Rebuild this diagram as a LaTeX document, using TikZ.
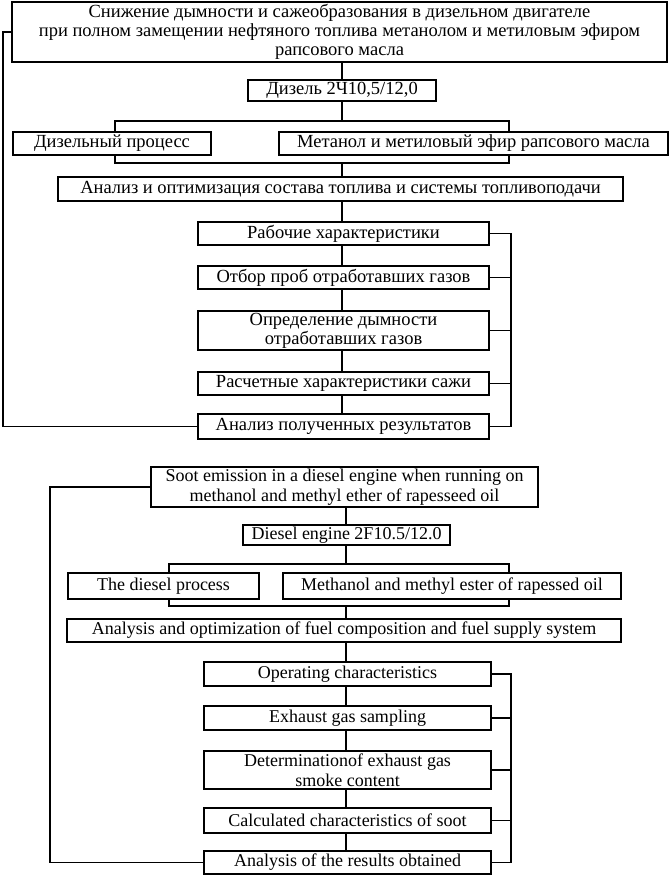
\documentclass[tikz,border=0pt]{standalone}
\usepackage{fontspec}
\setmainfont{Liberation Serif}
\begin{document}
\begin{tikzpicture}[x=1pt,y=-1pt,
  box/.style={draw, line width=1.6pt, fill=white, inner sep=0pt, align=center,
    font=\fontsize{18.5}{19.3}\selectfont},
  ebox/.style={box, font=\fontsize{18}{20}\selectfont},
  tbox/.style={box, line width=2.4pt},
  conn/.style={line width=1.6pt}]
\useasboundingbox (0,0) rectangle (671,876);
% ---------- top (Russian) ----------
\node[tbox, minimum width=655, minimum height=60] (T1) at (339.5,32)
  {Снижение дымности и сажеобразования в дизельном двигателе\\при полном замещении нефтяного топлива метанолом и метиловым эфиром\\рапсового масла};
\node[box, minimum width=188, minimum height=21] (D1) at (342,90.5) {Дизель 2Ч10,5/12,0};
\node[box, minimum width=198, minimum height=23] (L1) at (112,143.5) {Дизельный процесс};
\node[box, minimum width=389, minimum height=23] (R1) at (473.5,143.5) {Метанол и метиловый эфир рапсового масла};
\node[box, minimum width=565, minimum height=24] (A1) at (340.5,189) {Анализ и оптимизация состава топлива и системы топливоподачи};
\node[box, minimum width=291, minimum height=23] (B1) at (343.5,233.5) {Рабочие характеристики};
\node[box, minimum width=291, minimum height=23] (B2) at (343.5,277.5) {Отбор проб отработавших газов};
\node[box, minimum width=291, minimum height=39] (B3) at (343.5,330.5) {Определение дымности\\отработавших газов};
\node[box, minimum width=291, minimum height=23] (B4) at (343.5,383.5) {Расчетные характеристики сажи};
\node[box, minimum width=291, minimum height=25] (B5) at (343.5,426.5) {Анализ полученных результатов};
\coordinate (sp1) at (342,0);
\coordinate (btl1) at (115,121);
\coordinate (bbr1) at (509,163);
\coordinate (rb1) at (511,0);
\coordinate (lf1) at (3,0);
\draw[conn] (sp1 |- T1.south) -- (D1.north);
\draw[conn] (D1.south) -- (sp1 |- btl1);
\draw[conn] (L1.north -| btl1) |- (btl1 -| bbr1) -- (R1.north -| bbr1);
\draw[conn] (L1.south -| btl1) |- (bbr1) -- (R1.south -| bbr1);
\draw[conn] (sp1 |- bbr1) -- (sp1 |- A1.north);
\draw[conn] (sp1 |- A1.south) -- (sp1 |- B1.north);
\draw[conn] (sp1 |- B1.south) -- (sp1 |- B2.north);
\draw[conn] (sp1 |- B2.south) -- (sp1 |- B3.north);
\draw[conn] (sp1 |- B3.south) -- (sp1 |- B4.north);
\draw[conn] (sp1 |- B4.south) -- (sp1 |- B5.north);
\draw[conn] (B1.east) -- (B1.east -| rb1) -- (B5.east -| rb1) -- (B5.east);
\draw[conn] (B2.east) -- (B2.east -| rb1);
\draw[conn] (B3.east) -- (B3.east -| rb1);
\draw[conn] (B4.east) -- (B4.east -| rb1);
\draw[conn] (T1.west) -- (T1.west -| lf1) |- (B5.west);
% ---------- bottom (English) ----------
\node[ebox, minimum width=387, minimum height=40] (S) at (344.5,487)
  {Soot emission in a diesel engine when running on\\methanol and methyl ether of rapesseed oil};
\node[ebox, minimum width=207, minimum height=20] (E2) at (346.5,535) {Diesel engine 2F10.5/12.0};
\node[ebox, minimum width=191, minimum height=26] (L2) at (163.5,586) {The diesel process};
\node[ebox, minimum width=338, minimum height=26] (R2) at (452,586) {Methanol and methyl ester of rapessed oil};
\node[ebox, minimum width=554, minimum height=23] (A2) at (344,630.5) {Analysis and optimization of fuel composition and fuel supply system};
\node[ebox, minimum width=287, minimum height=24] (C1) at (347.5,674) {Operating characteristics};
\node[ebox, minimum width=287, minimum height=24] (C2) at (347.5,718) {Exhaust gas sampling};
\node[ebox, minimum width=287, minimum height=38] (C3) at (347.5,770) {Determinationof exhaust gas\\smoke content};
\node[ebox, minimum width=287, minimum height=25] (C4) at (347.5,820.5) {Calculated characteristics of soot};
\node[ebox, minimum width=287, minimum height=23] (C5) at (347.5,862.5) {Analysis of the results obtained};
\coordinate (sp2) at (346,0);
\coordinate (btl2) at (169,564);
\coordinate (bbr2) at (509,606);
\coordinate (rb2) at (511,0);
\coordinate (lf2) at (50,0);
\draw[conn] (sp2 |- S.south) -- (sp2 |- E2.north);
\draw[conn] (sp2 |- E2.south) -- (sp2 |- btl2);
\draw[conn] (L2.north -| btl2) |- (btl2 -| bbr2) -- (R2.north -| bbr2);
\draw[conn] (L2.south -| btl2) |- (bbr2) -- (R2.south -| bbr2);
\draw[conn] (sp2 |- bbr2) -- (sp2 |- A2.north);
\draw[conn] (sp2 |- A2.south) -- (sp2 |- C1.north);
\draw[conn] (sp2 |- C1.south) -- (sp2 |- C2.north);
\draw[conn] (sp2 |- C2.south) -- (sp2 |- C3.north);
\draw[conn] (sp2 |- C3.south) -- (sp2 |- C4.north);
\draw[conn] (sp2 |- C4.south) -- (sp2 |- C5.north);
\draw[conn] (C1.east) -- (C1.east -| rb2) -- (C5.east -| rb2) -- (C5.east);
\draw[conn] (C2.east) -- (C2.east -| rb2);
\draw[conn] (C3.east) -- (C3.east -| rb2);
\draw[conn] (C4.east) -- (C4.east -| rb2);
\draw[conn] (S.west) -- (S.west -| lf2) |- (C5.west);
\end{tikzpicture}
\end{document}
